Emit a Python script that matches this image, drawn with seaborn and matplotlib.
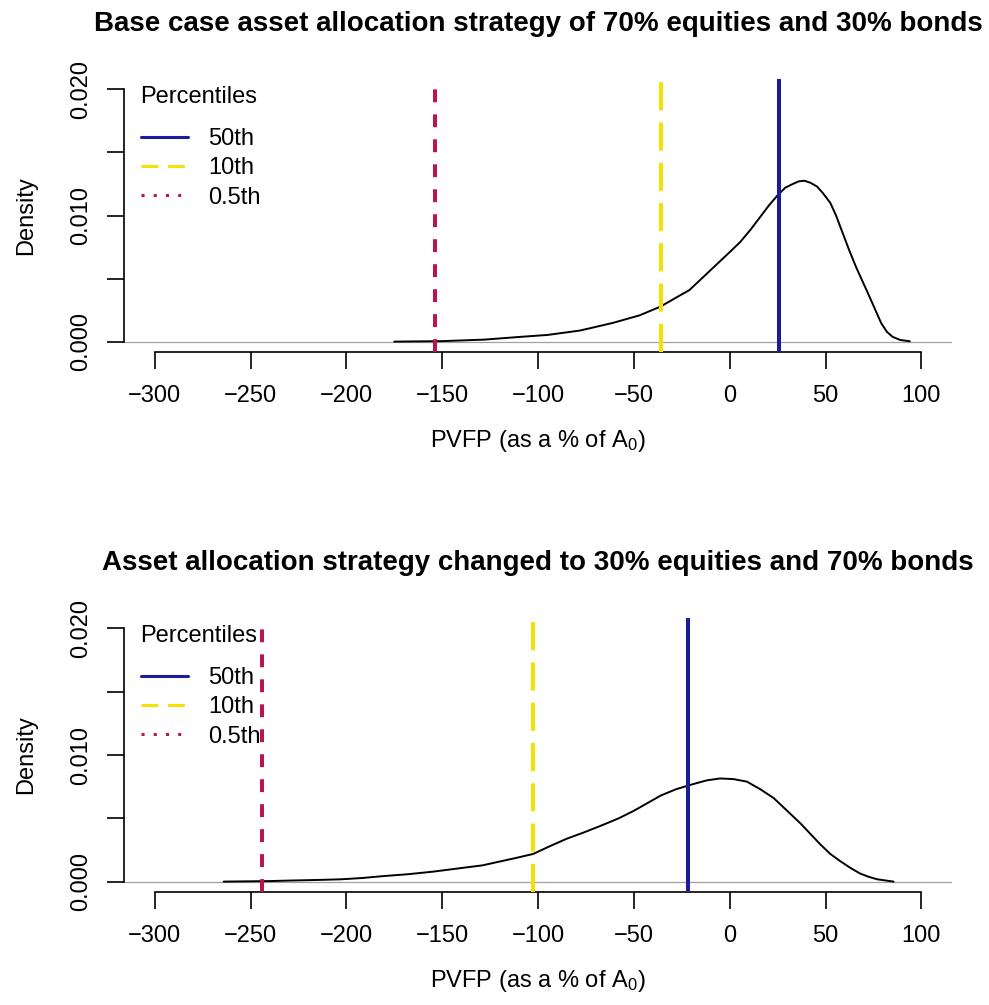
import numpy as np
import pandas as pd
import seaborn as sns
import matplotlib.pyplot as plt
from matplotlib.lines import Line2D

sns.set_style("white")
plt.rcParams['font.family'] = ['Liberation Sans', 'DejaVu Sans']
plt.rcParams['mathtext.fontset'] = 'custom'
plt.rcParams['mathtext.rm'] = 'Liberation Sans'
plt.rcParams['text.color'] = 'black'
plt.rcParams['axes.labelcolor'] = 'black'

# density curves
base_x = [-175, -150, -128, -109, -95, -78, -61, -47, -36, -28, -21, -14, -7, 0, 5.5, 11, 16, 20.5, 25, 29, 33,
          36, 39, 42, 45.5, 48.5, 52.5, 55.5, 59, 62.5, 66, 69, 72, 75.5, 79, 82, 85, 89, 94]
base_y = [0.00002, 0.00006, 0.00018, 0.0004, 0.00055, 0.0009, 0.0015, 0.0021, 0.0028, 0.0035, 0.0041, 0.0051,
          0.0061, 0.0071, 0.0079, 0.0089, 0.0099, 0.0108, 0.0116, 0.0122, 0.0125, 0.0127, 0.01275, 0.0126,
          0.0123, 0.0118, 0.0110, 0.0100, 0.0086, 0.0072, 0.0059, 0.0049, 0.0039, 0.0027, 0.0015, 0.0008,
          0.0004, 0.00015, 0.00005]
alt_x = [-264, -240, -230, -215, -203, -192, -181, -168, -155, -142, -129, -120, -111, -102.5, -94, -85, -76,
         -67.6, -58, -50, -43, -36, -28, -21.5, -12, -5, 2, 9, 16, 23, 30, 37, 42, 47, 52.5, 58, 63, 68,
         72.5, 77, 85.5]
alt_y = [0.00002, 0.00006, 0.0001, 0.00015, 0.0002, 0.0003, 0.00045, 0.0006, 0.0008, 0.00105, 0.0013, 0.0016,
         0.0019, 0.0022, 0.0028, 0.0034, 0.0039, 0.0044, 0.0050, 0.0056, 0.0062, 0.0068, 0.0073, 0.0076,
         0.0080, 0.00815, 0.0081, 0.0079, 0.0073, 0.0066, 0.0056, 0.0046, 0.0038, 0.0030, 0.0022, 0.0016,
         0.0011, 0.00066, 0.0004, 0.0002, 0.00002]

# percentile values (50th, 10th, 0.5th)
base_pct = [25.5, -36, -154]
alt_pct = [-21.5, -102.5, -244]
pct_labels = ["50th", "10th", "0.5th"]

titles = ["Base case asset allocation strategy of 70% equities and 30% bonds",
          "Asset allocation strategy changed to 30% equities and 70% bonds"]
x_ticks = [-300, -250, -200, -150, -100, -50, 0, 50, 100]
y_ticks = [0.0, 0.005, 0.010, 0.015, 0.020]
y_tick_labels = ["0.000", "", "0.010", "", "0.020"]

blue = "#1b1b9c"
yellow = "#f2e205"
red = "#b8164c"

fig = plt.figure(figsize=(9.89, 10.05), dpi=100)
ax_top = fig.add_axes([124 / 989, 1 - 352 / 1005, 828 / 989, 273 / 1005])
ax_bot = fig.add_axes([124 / 989, 1 - 892 / 1005, 828 / 989, 274 / 1005])

panels = [(ax_top, base_x, base_y, base_pct, titles[0]),
          (ax_bot, alt_x, alt_y, alt_pct, titles[1])]

for ax, xs, ys, pct, title in panels:
    h = ax.get_position().height * 1005
    df = pd.DataFrame({"pvfp": xs, "density": ys})
    ax.axhline(0, color="#a0a0a0", lw=0.9, zorder=1)
    sns.lineplot(data=df, x="pvfp", y="density", color="black", lw=1.4, ax=ax, zorder=3)
    ax.axvline(pct[0], color=blue, lw=2.9, zorder=4)
    ax.axvline(pct[1], color=yellow, lw=2.9, linestyle=(0, (7, 3)), zorder=4)
    ax.axvline(pct[2], color=red, lw=2.9, linestyle=(0, (3.2, 3)), zorder=4)

    ax.set_xlim(-316, 116)
    ax.set_ylim(-0.0008, 0.0208)
    ax.set_xticks(x_ticks)
    ax.set_xticklabels([str(t).replace("-", "\u2212") for t in x_ticks])
    ax.set_yticks(y_ticks)
    ax.set_yticklabels(y_tick_labels, rotation=90, va="center")
    for s in ["top", "right"]:
        ax.spines[s].set_visible(False)
    ax.spines["left"].set_bounds(0, 0.02)
    ax.spines["bottom"].set_bounds(-300, 100)
    for s in ["left", "bottom"]:
        ax.spines[s].set_linewidth(1.2)
        ax.spines[s].set_color("black")
    ax.tick_params(axis="both", direction="out", length=12, width=1.2, labelsize=17, colors="black",
                   bottom=True, left=True)
    ax.tick_params(axis="x", pad=12)
    ax.tick_params(axis="y", pad=11)

    ax.set_xlabel(r"PVFP (as a % of $\mathregular{A_0}$)", fontsize=17)
    ax.xaxis.set_label_coords(0.5, -76 / h)
    ax.set_ylabel("Density", fontsize=17)
    ax.yaxis.set_label_coords(-87 / 828, 0.5)
    ax.set_title(title, fontsize=20, fontweight="bold", y=1 + 55 / h, pad=0, va="center")

    handles = [Line2D([], [], color=blue, lw=2.2),
               Line2D([], [], color=yellow, lw=2.2, linestyle=(0, (5.5, 3.2))),
               Line2D([], [], color=red, lw=2.2, linestyle=(0, (1, 3)))]
    leg = ax.legend(handles, pct_labels, loc="upper left",
                    bbox_to_anchor=(0.02, 1 - 49 / h), frameon=False, fontsize=17,
                    borderaxespad=0, borderpad=0, handlelength=2.0, handletextpad=0.85,
                    labelspacing=0.31)
    leg.set_zorder(5)
    ax.text(75 / 828, 1 - 18 / h, "Percentiles", transform=ax.transAxes, fontsize=17,
            ha="center", va="center", zorder=5)

fig.savefig("out.png", dpi=100)
